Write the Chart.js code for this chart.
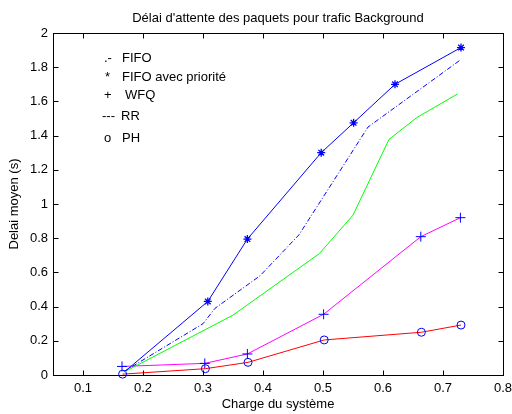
<!DOCTYPE html>
<html>
<head>
<meta charset="utf-8">
<script src="https://cdn.jsdelivr.net/npm/chart.js@4.4.1/dist/chart.umd.min.js"></script>
<style>
  html, body { margin: 0; padding: 0; background: #fff; }
  #wrap { width: 512px; height: 414px; }
</style>
</head>
<body>
<div id="wrap"><canvas id="chart" width="512" height="414"></canvas></div>
<script>
// values
const xTicks = [0.1, 0.2, 0.3, 0.4, 0.5, 0.6, 0.7, 0.8];
const yTicks = [0, 0.2, 0.4, 0.6, 0.8, 1, 1.2, 1.4, 1.6, 1.8, 2];

const fifoX = [0.168, 0.30, 0.32, 0.395, 0.46, 0.575, 0.73];
const fifoY = [0.02, 0.30, 0.39, 0.58, 0.82, 1.45, 1.845];

const prioX = [0.172, 0.308, 0.374, 0.497, 0.551, 0.62, 0.73];
const prioY = [0.027, 0.43, 0.795, 1.30, 1.475, 1.70, 1.915];

const wfqX = [0.165, 0.303, 0.374, 0.501, 0.663, 0.729];
const wfqY = [0.05, 0.068, 0.123, 0.355, 0.809, 0.92];

const rrX = [0.17, 0.35, 0.494, 0.55, 0.61, 0.657, 0.724];
const rrY = [0.02, 0.35, 0.71, 0.935, 1.378, 1.507, 1.643];

const phX = [0.166, 0.304, 0.375, 0.502, 0.664, 0.73];
const phY = [0.005, 0.037, 0.074, 0.205, 0.25, 0.292];

const legendMarks = ['.-', '*', '+', '---', 'o'];
const legendNames = ['FIFO', 'FIFO avec priorité', 'WFQ', 'RR', 'PH'];

const FONT = '"Liberation Sans", Arial, sans-serif';
const pts = (xs, ys) => xs.map((x, i) => ({ x, y: ys[i] }));
const fmt = v => String(Math.round(v * 10) / 10);

// title, text legend, box and inward ticks (matlab look)
const decor = {
  id: 'decor',
  afterDraw(chart) {
    const { ctx, chartArea: a, scales } = chart;
    ctx.save();
    ctx.fillStyle = '#000';
    ctx.textBaseline = 'middle';

    ctx.font = '13px ' + FONT;
    ctx.textAlign = 'center';
    ctx.fillText("Délai d'attente des paquets pour trafic Background", (a.left + a.right) / 2, 18);

    ctx.textAlign = 'left';
    const rowY = [25, 44, 62, 83, 105];
    const markX = [51, 52, 51, 49, 51];
    const nameX = [69, 69, 72, 68, 69];
    legendMarks.forEach((m, i) => {
      ctx.fillText(m, a.left + markX[i], a.top + rowY[i]);
      ctx.fillText(legendNames[i], a.left + nameX[i], a.top + rowY[i]);
    });

    ctx.strokeStyle = '#000';
    ctx.lineWidth = 1;
    const L = Math.round(a.left) + 0.5, R = Math.round(a.right) + 0.5;
    const T = Math.round(a.top) + 0.5, B = Math.round(a.bottom) + 0.5;
    ctx.strokeRect(L, T, R - L, B - T);
    ctx.beginPath();
    xTicks.forEach(v => {
      const px = Math.round(scales.x.getPixelForValue(v)) + 0.5;
      ctx.moveTo(px, B); ctx.lineTo(px, B - 5);
      ctx.moveTo(px, T); ctx.lineTo(px, T + 5);
    });
    yTicks.forEach(v => {
      const py = Math.round(scales.y.getPixelForValue(v)) + 0.5;
      ctx.moveTo(L, py); ctx.lineTo(L + 5, py);
      ctx.moveTo(R, py); ctx.lineTo(R - 5, py);
    });
    ctx.stroke();
    ctx.restore();
  }
};

const line = (data, color, extra) => Object.assign({
  data, borderColor: color, borderWidth: 1, tension: 0, fill: false,
  pointRadius: 0, clip: false,
}, extra);

new Chart(document.getElementById('chart'), {
  type: 'line',
  data: {
    datasets: [
      line(pts(fifoX, fifoY), '#0000ff', { borderDash: [5, 2, 1, 2] }),
      line(pts(prioX, prioY), '#0000ff', {
        pointStyle: 'star', pointRadius: [0, 4, 4, 4, 4, 4, 4], pointBorderColor: '#0000ff', pointBorderWidth: 1.3,
      }),
      line(pts(rrX, rrY), '#00ff00'),
      line(pts(wfqX, wfqY), '#ff00ff', {
        pointStyle: 'cross', pointRadius: 5, pointBorderColor: '#0000ff', pointBorderWidth: 1,
      }),
      line(pts(phX, phY), '#ff0000', {
        pointStyle: 'circle', pointRadius: 4, pointBorderColor: '#0000ff', pointBackgroundColor: 'rgba(0,0,0,0)', pointBorderWidth: 1,
      }),
    ],
  },
  options: {
    responsive: false,
    animation: false,
    layout: { padding: { top: 33, right: 9, left: 0, bottom: 0 } },
    plugins: { legend: { display: false }, tooltip: { enabled: false } },
    scales: {
      x: {
        type: 'linear', min: 0.05, max: 0.8,
        grid: { display: false, drawTicks: false },
        border: { display: false },
        afterBuildTicks: s => { s.ticks = xTicks.map(v => ({ value: v })); },
        afterFit: s => { s.height = 39; s.paddingLeft = 0; s.paddingRight = 0; },
        ticks: { color: '#000', font: { family: FONT, size: 13 }, padding: 6, maxRotation: 0, callback: fmt },
        title: { display: true, text: 'Charge du système', color: '#000', font: { family: FONT, size: 13 }, padding: { top: 0, bottom: 2 } },
      },
      y: {
        min: 0, max: 2,
        grid: { display: false, drawTicks: false },
        border: { display: false },
        afterBuildTicks: s => { s.ticks = yTicks.map(v => ({ value: v })); },
        afterFit: s => { s.width = 53; s.paddingTop = 0; s.paddingBottom = 0; },
        ticks: { color: '#000', font: { family: FONT, size: 13 }, padding: 5, callback: fmt },
        title: { display: true, text: 'Delai moyen (s)', color: '#000', font: { family: FONT, size: 13 }, padding: { top: 7, bottom: 0 } },
      },
    },
  },
  plugins: [decor],
});
</script>
</body>
</html>
